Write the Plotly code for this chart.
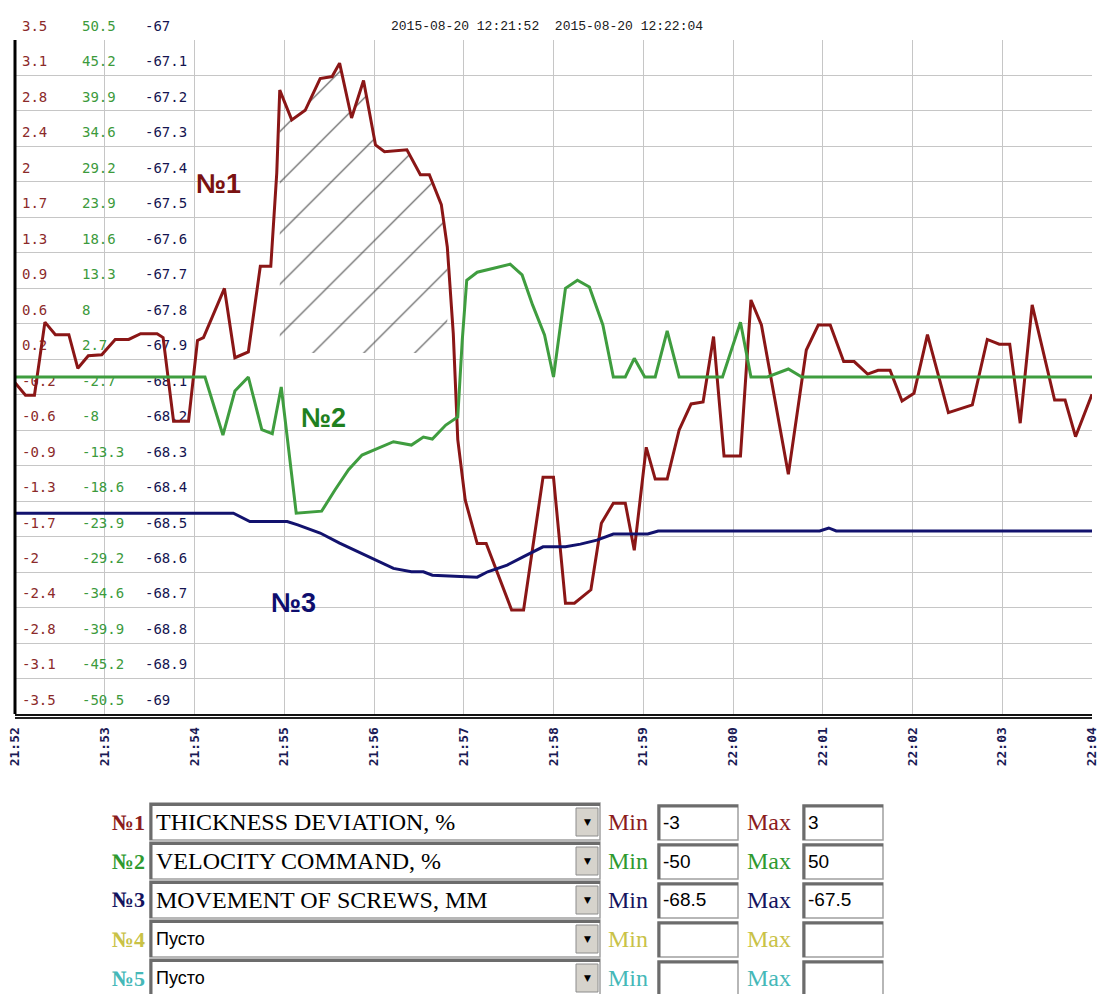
import numpy as np
import pandas as pd
import plotly.graph_objects as go

# ---- series (seconds after 21:52:00, value) ----
RED_T = [0, 7, 13, 20, 27, 36, 42, 49, 58, 67, 76, 84, 95, 99, 106, 116, 122, 126, 140, 147,
         156, 164, 171, 175, 177, 185, 194, 204, 212, 217, 225, 233, 241, 247, 262, 271, 277, 285, 289, 293,
         296, 301, 309, 315, 332, 340, 353, 360, 368, 374, 385, 392, 400, 408, 414, 422, 428, 436, 444, 452,
         460, 467, 474, 485, 492, 499, 517, 529, 537, 545, 554, 561, 570, 577, 585, 593, 601, 610, 624, 640,
         650, 658, 665, 672, 680, 695, 702, 709, 720]
RED_V = [-0.06, -0.19, -0.19, 0.57, 0.44, 0.44, 0.09, 0.22, 0.23, 0.39, 0.39, 0.45, 0.45, 0.41, -0.46, -0.46, 0.38, 0.41, 0.92, 0.20,
         0.26, 1.15, 1.15, 2.12, 2.98, 2.67, 2.77, 3.10, 3.12, 3.26, 2.69, 3.08, 2.41, 2.34, 2.36, 2.10, 2.10, 1.79, 1.35, 0.45,
         -0.65, -1.28, -1.73, -1.73, -2.42, -2.42, -1.04, -1.04, -2.35, -2.35, -2.21, -1.52, -1.31, -1.31, -1.80, -0.73, -1.06, -1.06, -0.55, -0.28,
         -0.26, 0.42, -0.82, -0.82, 0.80, 0.54, -1.01, 0.28, 0.54, 0.54, 0.16, 0.16, 0.03, 0.07, 0.07, -0.25, -0.17, 0.44, -0.37, -0.29,
         0.39, 0.34, 0.34, -0.48, 0.75, -0.24, -0.24, -0.62, -0.18]

GREEN_T = [0, 127, 139, 147, 156, 165, 172, 178, 188, 205, 214, 223, 232, 244, 253, 265, 273, 279, 288, 296,
           299, 302, 309, 320, 331, 339, 346, 354, 360, 368, 376, 384, 393, 400, 408, 414, 421, 428, 436, 444,
           473, 485, 492, 503, 517, 526, 720]
GREEN_V = [0, 0, -8.7, -2.1, 0, -7.9, -8.5, -1.5, -20.4, -20.1, -16.9, -13.9, -11.7, -10.5, -9.7, -10.2, -9.0, -9.3, -7.2, -6.0,
           5.5, 14.5, 15.7, 16.3, 16.9, 15.3, 10.8, 6.3, 0, 13.3, 14.5, 13.5, 7.8, 0, 0, 2.8, 0, 0, 6.9, 0,
           0, 8.2, 0, 0, 1.2, 0, 0]

BLUE_T = [0, 146, 157, 182, 189, 204, 217, 231, 244, 253, 265, 273, 279, 294, 300, 309, 316, 329, 340, 349,
          353, 368, 378, 389, 400, 423, 430, 538, 544, 549, 720]
BLUE_V = [-68.404, -68.404, -68.429, -68.429, -68.439, -68.463, -68.493, -68.522, -68.548, -68.568,
          -68.578, -68.578, -68.588, -68.591, -68.594, -68.594, -68.578, -68.558, -68.533, -68.513,
          -68.504, -68.504, -68.496, -68.484, -68.466, -68.466, -68.457, -68.457, -68.448, -68.457, -68.457]

# hatched zone under the thickness peak
HATCH_START, HATCH_END, HATCH_FLOOR = 177, 289, 0.25

# ---- scales ----
RED_RANGE = [-3.5, 3.5]
GREEN_RANGE = [-50.5, 50.5]
BLUE_RANGE = [-69.0, -67.0]
RED_LABELS = ["3.5", "3.1", "2.8", "2.4", "2", "1.7", "1.3", "0.9", "0.6", "0.2",
              "-0.2", "-0.6", "-0.9", "-1.3", "-1.7", "-2", "-2.4", "-2.8", "-3.1", "-3.5"]
GREEN_LABELS = ["50.5", "45.2", "39.9", "34.6", "29.2", "23.9", "18.6", "13.3", "8", "2.7",
                "-2.7", "-8", "-13.3", "-18.6", "-23.9", "-29.2", "-34.6", "-39.9", "-45.2", "-50.5"]
BLUE_LABELS = ["-67", "-67.1", "-67.2", "-67.3", "-67.4", "-67.5", "-67.6", "-67.7", "-67.8", "-67.9",
               "-68.1", "-68.2", "-68.3", "-68.4", "-68.5", "-68.6", "-68.7", "-68.8", "-68.9", "-69"]

PERIOD_TEXT = "2015-08-20 12:21:52  2015-08-20 12:22:04"
START = pd.Timestamp("2015-08-20 21:52:00")
END = pd.Timestamp("2015-08-20 22:04:00")

# ---- parameter panel ----
PANEL_TAGS = ["№1", "№2", "№3", "№4", "№5"]
PANEL_NAMES = ["THICKNESS DEVIATION, %", "VELOCITY COMMAND, %", "MOVEMENT OF SCREWS, MM", "Пусто", "Пусто"]
PANEL_MIN = ["-3", "-50", "-68.5", "", ""]
PANEL_MAX = ["3", "50", "-67.5", "", ""]

RED, GREEN, BLUE = "#8a1616", "#3f9d3f", "#12126e"
PANEL_COLORS = ["#8b1c1c", "#2f9a2f", "#14145e", "#c9c247", "#45b8b8"]
GRID = "#c6c6c6"


def times(secs):
    return [START + pd.Timedelta(seconds=s) for s in secs]


W, H = 1101, 994
ML, MR, MT, MB = 15, 9, 40, 280
PW, PH = W - ML - MR, H - MT - MB


def px(x):
    return (x - ML) / PW


def py(y):
    return (MT + PH - y) / PH


def note(text, x, y, font, xanchor="center"):
    return dict(text=text, xref="paper", yref="paper", x=px(x), y=py(y), showarrow=False,
                xanchor=xanchor, yanchor="middle", font=font)


fig = go.Figure()

# hatch polygon built from the thickness curve
hx = [t for t in RED_T if HATCH_START <= t <= HATCH_END]
hy = [v for t, v in zip(RED_T, RED_V) if HATCH_START <= t <= HATCH_END]
hx = [HATCH_START] + hx + [HATCH_END, HATCH_START]
hy = [HATCH_FLOOR] + hy + [HATCH_FLOOR, HATCH_FLOOR]
fig.add_trace(go.Scatter(
    x=times(hx), y=hy, mode="none", fill="toself", fillcolor="rgba(0,0,0,0)",
    fillpattern=dict(shape="/", fgcolor="#4a4a4a", bgcolor="rgba(255,255,255,0)",
                     size=36, solidity=0.03, fillmode="replace"),
    yaxis="y", hoverinfo="skip"))

fig.add_trace(go.Scatter(x=times(BLUE_T), y=BLUE_V, mode="lines",
                         line=dict(color=BLUE, width=3), yaxis="y3"))
fig.add_trace(go.Scatter(x=times(RED_T), y=RED_V, mode="lines",
                         line=dict(color=RED, width=3), yaxis="y"))
fig.add_trace(go.Scatter(x=times(GREEN_T), y=GREEN_V, mode="lines",
                         line=dict(color=GREEN, width=3), yaxis="y2"))


def value_axis(rng, labels, color, pos, grid):
    return dict(
        range=rng, tickmode="array",
        tickvals=list(np.linspace(rng[1], rng[0], len(labels))), ticktext=labels,
        side="right", anchor="free", position=pos, showline=False, zeroline=False,
        ticks="", ticklabelshift=-14, ticklabelstandoff=0,
        tickfont=dict(family="DejaVu Sans Mono", size=14, color=color),
        showgrid=grid, gridcolor=GRID, gridwidth=1, layer="below traces", fixedrange=True,
    )


fig.update_layout(
    template="none", width=W, height=H,
    margin=dict(l=ML, r=MR, t=MT, b=MB),
    paper_bgcolor="white", plot_bgcolor="white", showlegend=False, hovermode=False,
    xaxis=dict(
        type="date", range=[START, END], tick0=START, dtick=60000, tickformat="%H:%M",
        tickangle=-90, ticks="", ticklabelstandoff=6,
        tickfont=dict(family="DejaVu Sans Mono", size=13, color="#1b1b55", weight="bold"),
        showgrid=True, gridcolor=GRID, gridwidth=1, zeroline=False,
        showline=True, linecolor="#111111", linewidth=2, layer="below traces",
    ),
    yaxis=value_axis(RED_RANGE, RED_LABELS, "#8b2a2a", px(21), True),
    yaxis2=dict(value_axis(GREEN_RANGE, GREEN_LABELS, "#3c9a3c", px(81), False), overlaying="y"),
    yaxis3=dict(value_axis(BLUE_RANGE, BLUE_LABELS, "#141450", px(144), False), overlaying="y"),
)

shapes = [
    # heavy left frame and doubled base line
    dict(type="line", xref="paper", yref="paper", x0=0, x1=0, y0=0, y1=1,
         line=dict(color="black", width=3)),
    dict(type="line", xref="paper", yref="paper", x0=0, x1=1, y0=py(718), y1=py(718),
         line=dict(color="#222222", width=2)),
]
annotations = [
    note(PERIOD_TEXT, 547, 27, dict(family="Liberation Mono", size=13, color="#202020")),
    note("<b>№1</b>", 218, 184, dict(family="Liberation Sans", size=27, color="#7a1212")),
    note("<b>№2</b>", 323, 418, dict(family="Liberation Sans", size=27, color="#1f801f")),
    note("<b>№3</b>", 293, 603, dict(family="Liberation Sans", size=27, color="#0e0e6e")),
]

# parameter rows below the chart
for i in range(len(PANEL_TAGS)):
    top = 803 + 39 * i
    mid = top + 19
    col = PANEL_COLORS[i]
    # select box with sunken edge
    shapes.append(dict(type="rect", xref="paper", yref="paper", x0=px(150), x1=px(600),
                       y0=py(top + 37), y1=py(top), fillcolor="white",
                       line=dict(color="#a0a0a0", width=1.5)))
    shapes.append(dict(type="path", xref="paper", yref="paper",
                       path=f"M {px(151)},{py(top + 37)} L {px(151)},{py(top + 1.5)} L {px(600)},{py(top + 1.5)}",
                       line=dict(color="#6c6c6c", width=3)))
    # drop-down button
    shapes.append(dict(type="rect", xref="paper", yref="paper", x0=px(576), x1=px(598),
                       y0=py(top + 33), y1=py(top + 5), fillcolor="#d6d3cc",
                       line=dict(color="#8c8c8c", width=1)))
    annotations.append(note("▼", 587, mid, dict(family="DejaVu Sans", size=9, color="black")))
    # min / max inputs
    for bx in (658, 803):
        shapes.append(dict(type="rect", xref="paper", yref="paper", x0=px(bx), x1=px(bx + 80),
                           y0=py(top + 37), y1=py(top + 2), fillcolor="white",
                           line=dict(color="#a0a0a0", width=1.5)))
        shapes.append(dict(type="path", xref="paper", yref="paper",
                           path=f"M {px(bx + 1)},{py(top + 37)} L {px(bx + 1)},{py(top + 3)} L {px(bx + 80)},{py(top + 3)}",
                           line=dict(color="#6c6c6c", width=3)))
    annotations.append(note(f"<b>{PANEL_TAGS[i]}</b>", 147, mid,
                            dict(family="Liberation Serif", size=22, color=col), "right"))
    name_font = (dict(family="Liberation Serif", size=24, color="black") if i < 3
                 else dict(family="Liberation Sans", size=18, color="black"))
    annotations.append(note(PANEL_NAMES[i], 154, mid, name_font, "left"))
    annotations.append(note("Min", 606, mid, dict(family="Liberation Serif", size=24, color=col), "left"))
    annotations.append(note("Max", 745, mid, dict(family="Liberation Serif", size=24, color=col), "left"))
    for bx, val in ((658, PANEL_MIN[i]), (803, PANEL_MAX[i])):
        if val:
            annotations.append(note(val, bx + 3, mid,
                                    dict(family="Liberation Sans", size=19, color="black"), "left"))

fig.update_layout(shapes=shapes, annotations=annotations)
fig.write_html("out.html")
